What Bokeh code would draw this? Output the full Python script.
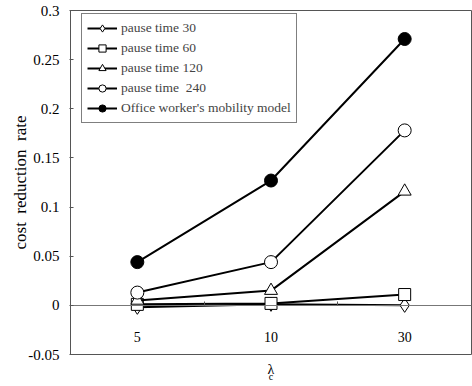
from bokeh.plotting import figure
from bokeh.models import (LinearAxis, FixedTicker, Range1d, Legend, LegendItem,
                          CustomJSTickFormatter)
from bokeh.embed import file_html
from bokeh.resources import INLINE

# ---- data ----
lam_c = ["5", "10", "30"]
pause30 = [-0.002, 0.001, 0.000]
pause60 = [0.001, 0.002, 0.011]
pause120 = [0.005, 0.015, 0.116]
pause240 = [0.013, 0.044, 0.178]
office = [0.044, 0.127, 0.271]
y_ticks = [-0.05, 0.0, 0.05, 0.1, 0.15, 0.2, 0.25, 0.3]
series_labels = ["pause time 30", "pause time 60", "pause time 120",
                 "pause time\u00a0\u00a0240", "Office worker's mobility model"]

xs = list(range(1, len(lam_c) + 1))
FONT = "Liberation Serif"
AX = "#555555"

p = figure(width=472, height=386, output_backend="svg", toolbar_location=None,
           x_range=Range1d(0.5, len(lam_c) + 0.5), y_range=Range1d(y_ticks[0], y_ticks[-1]),
           x_axis_type=None, min_border_left=70, min_border_right=1,
           min_border_top=10, min_border_bottom=32)
p.grid.visible = False
p.outline_line_color = AX
p.outline_line_width = 1
p.background_fill_color = "white"
p.border_fill_color = "white"

# y axis
ya = p.yaxis[0]
ya.ticker = FixedTicker(ticks=y_ticks)
ya.formatter = CustomJSTickFormatter(code="return String(Math.round(tick*100)/100);")
ya.minor_tick_line_color = None
ya.major_tick_in = 3
ya.major_tick_out = 1
ya.axis_line_color = AX
ya.major_tick_line_color = AX
ya.major_label_text_font = FONT
ya.major_label_text_font_size = "15px"
ya.major_label_text_color = "black"
ya.major_label_standoff = 10
ya.axis_label = "cost\u00a0\u00a0reduction\u00a0\u00a0rate"
ya.axis_label_text_font = FONT
ya.axis_label_text_font_size = "17px"
ya.axis_label_text_font_style = "normal"
ya.axis_label_text_color = "black"
ya.axis_label_standoff = -5

# zero line axis with ticks between categories
zero_ax = LinearAxis(ticker=FixedTicker(ticks=[x + 0.5 for x in xs[:-1]]), fixed_location=0,
                     axis_line_color="#777777", major_tick_line_color="#555555",
                     major_tick_in=4, major_tick_out=0, minor_tick_line_color=None,
                     major_label_text_alpha=0, major_label_text_font_size="1px")
p.add_layout(zero_ax, "below")

# category labels
cat_ax = LinearAxis(ticker=FixedTicker(ticks=xs), fixed_location=0,
                    axis_line_color=None, major_tick_line_color=None,
                    minor_tick_line_color=None,
                    major_label_overrides={x: s for x, s in zip(xs, lam_c)},
                    major_label_standoff=21, major_label_text_font=FONT,
                    major_label_text_font_size="14px", major_label_text_color="black")
p.add_layout(cat_ax, "below")

# axis title "λ" with subscript "c", below the frame
def title_axis(text, size, standoff, center):
    return LinearAxis(ticker=FixedTicker(ticks=[]),
                      bounds=(center - 1, center + 1),
                      axis_line_color=None, major_tick_line_color=None,
                      major_tick_in=0, major_tick_out=0, major_label_standoff=0,
                      minor_tick_line_color=None, minor_tick_in=0, minor_tick_out=0,
                      major_label_text_font_size="1px",
                      axis_label=text, axis_label_text_font=FONT,
                      axis_label_text_color="black",
                      axis_label_text_font_size=size, axis_label_text_font_style="normal",
                      axis_label_standoff=standoff)

# subscript panel first (nearest the frame), then "λ" pulled back up above it
p.add_layout(title_axis("c", "10px", 16, 2.035), "below")
p.add_layout(title_axis("λ", "14px", -23, 1.98), "below")

# series
specs = [
    (pause30, "diamond", "white", 14),
    (pause60, "square", "white", 12),
    (pause120, "triangle", "white", 13),
    (pause240, "circle", "white", 13),
    (office, "circle", "black", 13),
]
items = []
for (vals, marker, fill, size), lab in zip(specs, series_labels):
    ln = p.line(xs, vals, line_color="black", line_width=2)
    sc = p.scatter(xs, vals, marker=marker, size=size, fill_color=fill,
                   line_color="black", line_width=1)
    items.append(LegendItem(label=lab, renderers=[ln, sc]))

legend = Legend(items=items, location=(11, 231), padding=5, spacing=2,
                label_height=18, glyph_height=18, glyph_width=30, label_standoff=4,
                label_text_font=FONT, label_text_font_size="13.5px",
                border_line_color="black", border_line_width=1,
                background_fill_alpha=1, margin=0)
p.add_layout(legend, "center")

open("out.html", "w").write(file_html(p, INLINE))
